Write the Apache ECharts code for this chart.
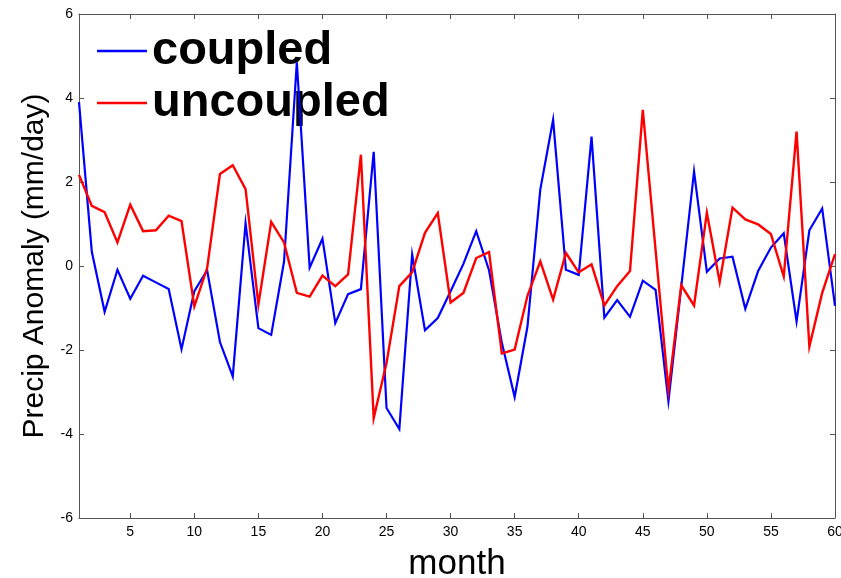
<!DOCTYPE html>
<html>
<head>
<meta charset="utf-8">
<style>
  html, body { margin: 0; padding: 0; background: #ffffff; }
  #chart { width: 841px; height: 578px; }
</style>
<script src="https://cdn.jsdelivr.net/npm/echarts@6/dist/echarts.min.js"></script>
</head>
<body>
<div id="chart"></div>
<script>
// Monthly precipitation anomaly, coupled vs uncoupled runs (mm/day)
const months = [
  1, 2, 3, 4, 5, 6, 7, 8, 9, 10,
  11, 12, 13, 14, 15, 16, 17, 18, 19, 20,
  21, 22, 23, 24, 25, 26, 27, 28, 29, 30,
  31, 32, 33, 34, 35, 36, 37, 38, 39, 40,
  41, 42, 43, 44, 45, 46, 47, 48, 49, 50,
  51, 52, 53, 54, 55, 56, 57, 58, 59, 60
];
const coupled = [
  3.9, 0.34, -1.09, -0.09, -0.78, -0.23, -0.39, -0.55, -1.98, -0.6,
  -0.1, -1.81, -2.63, 1.02, -1.48, -1.64, 0.1, 4.85, -0.04, 0.65,
  -1.36, -0.67, -0.55, 2.72, -3.38, -3.88, 0.27, -1.53, -1.24, -0.6,
  0.05, 0.83, -0.1, -1.83, -3.12, -1.44, 1.82, 3.48, -0.09, -0.21,
  3.08, -1.23, -0.81, -1.21, -0.35, -0.57, -3.22, -0.5, 2.25, -0.14,
  0.18, 0.22, -1.02, -0.12, 0.44, 0.78, -1.32, 0.85, 1.37, -0.95
];
const uncoupled = [
  2.17, 1.43, 1.28, 0.56, 1.46, 0.83, 0.85, 1.2, 1.07, -0.96,
  -0.05, 2.19, 2.4, 1.83, -0.92, 1.05, 0.56, -0.64, -0.73, -0.23,
  -0.48, -0.2, 2.65, -3.62, -2.31, -0.48, -0.15, 0.79, 1.26, -0.87,
  -0.64, 0.19, 0.33, -2.08, -1.99, -0.71, 0.11, -0.8, 0.31, -0.15,
  0.04, -0.94, -0.48, -0.12, 3.72, 0.37, -2.96, -0.46, -0.94, 1.27,
  -0.38, 1.39, 1.11, 0.99, 0.76, -0.25, 3.2, -1.92, -0.64, 0.28
];
const xTickValues = [5, 10, 15, 20, 25, 30, 35, 40, 45, 50, 55, 60];

const FONT = "'Liberation Sans', Arial, Helvetica, sans-serif";
const AXIS_COLOR = '#555555';

const pairs = (vals) => months.map((m, i) => [m, vals[i]]);

const boxAxisLine = { show: true, onZero: false, lineStyle: { color: AXIS_COLOR, width: 1 } };

const chart = echarts.init(document.getElementById('chart'), null, { renderer: 'canvas' });

chart.setOption({
  animation: false,
  backgroundColor: '#ffffff',
  grid: { left: 79, right: 6, top: 14, bottom: 60, containLabel: false, outerBoundsMode: 'none' },
  legend: {
    orient: 'vertical',
    left: 97,
    top: 25,
    padding: 0,
    itemGap: 0,
    itemWidth: 50,
    itemHeight: 2.5,
    icon: 'rect',
    z: 1,
    textStyle: {
      fontFamily: FONT,
      fontWeight: 'bold',
      fontSize: 47,
      lineHeight: 52,
      color: '#000000'
    },
    data: ['coupled', 'uncoupled']
  },
  xAxis: [
    {
      type: 'value',
      position: 'bottom',
      min: 1,
      max: 60,
      name: 'month',
      nameLocation: 'middle',
      nameGap: 29,
      nameTextStyle: { fontFamily: FONT, fontSize: 35, color: '#000000' },
      axisLine: boxAxisLine,
      axisTick: { show: true, inside: true, length: 5, customValues: xTickValues, lineStyle: { color: AXIS_COLOR } },
      axisLabel: { show: true, customValues: xTickValues, margin: 7, fontFamily: FONT, fontSize: 14, color: '#000000' },
      splitLine: { show: false }
    },
    {
      type: 'value',
      position: 'top',
      min: 1,
      max: 60,
      axisLine: boxAxisLine,
      axisTick: { show: true, inside: true, length: 5, customValues: xTickValues, lineStyle: { color: AXIS_COLOR } },
      axisLabel: { show: false },
      splitLine: { show: false }
    }
  ],
  yAxis: [
    {
      type: 'value',
      position: 'left',
      min: -6,
      max: 6,
      interval: 2,
      name: 'Precip Anomaly (mm/day)',
      nameLocation: 'middle',
      nameGap: 20,
      nameTextStyle: { fontFamily: FONT, fontSize: 30, color: '#000000' },
      axisLine: boxAxisLine,
      axisTick: { show: true, inside: true, length: 5, lineStyle: { color: AXIS_COLOR } },
      axisLabel: { show: true, margin: 6, fontFamily: FONT, fontSize: 14, color: '#000000' },
      splitLine: { show: false }
    },
    {
      type: 'value',
      position: 'right',
      min: -6,
      max: 6,
      interval: 2,
      axisLine: boxAxisLine,
      axisTick: { show: true, inside: true, length: 5, lineStyle: { color: AXIS_COLOR } },
      axisLabel: { show: false },
      splitLine: { show: false }
    }
  ],
  series: [
    {
      name: 'coupled',
      type: 'line',
      xAxisIndex: 0,
      yAxisIndex: 0,
      data: pairs(coupled),
      showSymbol: false,
      symbol: 'none',
      z: 3,
      color: '#0000ff',
      lineStyle: { color: '#0000ff', width: 2.2, join: 'miter' }
    },
    {
      name: 'uncoupled',
      type: 'line',
      xAxisIndex: 0,
      yAxisIndex: 0,
      data: pairs(uncoupled),
      showSymbol: false,
      symbol: 'none',
      z: 4,
      color: '#ff0000',
      lineStyle: { color: '#ff0000', width: 2.4, join: 'miter' }
    }
  ]
});
</script>
</body>
</html>
